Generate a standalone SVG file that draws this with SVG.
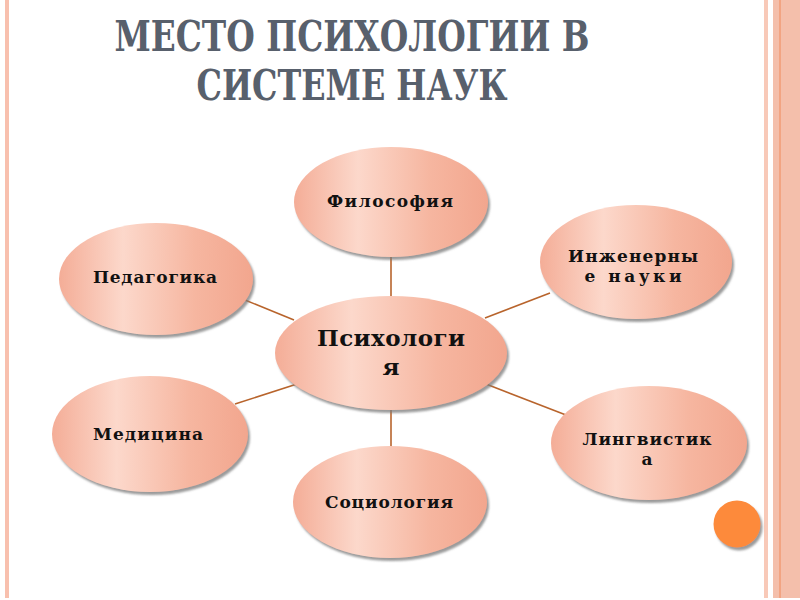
<svg xmlns="http://www.w3.org/2000/svg" width="800" height="600" viewBox="0 0 800 600">
<defs>
<linearGradient id="g" x1="0" y1="0" x2="1" y2="0">
<stop offset="0" stop-color="#f4ad97"/>
<stop offset="0.33" stop-color="#fcd8cb"/>
<stop offset="0.7" stop-color="#f6b6a0"/>
<stop offset="1" stop-color="#f2a68e"/>
</linearGradient>
<filter id="sh" x="-10%" y="-10%" width="125%" height="130%">
<feGaussianBlur in="SourceAlpha" stdDeviation="1"/>
<feOffset dx="2" dy="3" result="o"/>
<feFlood flood-color="#7a7a7a" flood-opacity="0.75"/>
<feComposite in2="o" operator="in"/>
<feMerge><feMergeNode/><feMergeNode in="SourceGraphic"/></feMerge>
</filter>
</defs>
<style>
.n{fill:url(#g);filter:url(#sh)}
.t{font-family:"DejaVu Serif","Liberation Serif",serif;font-weight:bold;fill:#111;text-anchor:middle;font-size:17px}
.big{font-size:23px}
.title{font-family:"DejaVu Serif","Liberation Serif",serif;font-weight:bold;fill:#58606c;text-anchor:middle;font-size:42px}
.c{stroke:#b8642c;stroke-width:1.6;fill:none}
</style>
<rect width="800" height="600" fill="#fff"/>
<g id="borders">
<rect x="5" y="0" width="4" height="598" fill="#f8c0ae"/>
<rect x="764" y="0" width="4" height="598" fill="#f8c9b8"/>
<rect x="773" y="0" width="27" height="598" fill="#f4bfab"/>
<line x1="780" y1="0" x2="780" y2="598" stroke="#f08a5a" stroke-width="1"/>
</g>
<g id="title">
<text class="title" x="352" y="51" textLength="475" lengthAdjust="spacingAndGlyphs">МЕСТО ПСИХОЛОГИИ В</text>
<text class="title" x="352" y="100" textLength="311" lengthAdjust="spacingAndGlyphs">СИСТЕМЕ НАУК</text>
</g>
<g id="connectors">
<line class="c" x1="391" y1="257" x2="391" y2="297"/>
<line class="c" x1="245" y1="300" x2="294" y2="320"/>
<line class="c" x1="550" y1="293" x2="485" y2="318"/>
<line class="c" x1="235" y1="404" x2="297" y2="384"/>
<line class="c" x1="566" y1="415" x2="486" y2="384"/>
<line class="c" x1="391" y1="409" x2="391" y2="448"/>
</g>
<g id="filosofiya">
<ellipse class="n" cx="391" cy="202" rx="97" ry="55"/>
<text class="t" x="390" y="207" textLength="126">Философия</text>
</g>
<g id="pedagogika">
<ellipse class="n" cx="156" cy="279" rx="97" ry="56"/>
<text class="t" x="155" y="283" textLength="124">Педагогика</text>
</g>
<g id="inzhenernye">
<ellipse class="n" cx="636" cy="262" rx="96" ry="57"/>
<text class="t" x="633" y="262" textLength="130">Инженерны</text>
<text class="t" x="633" y="282" textLength="97">е науки</text>
</g>
<g id="psihologiya">
<ellipse class="n" cx="391" cy="353" rx="116" ry="57"/>
<text class="t big" x="391" y="346" textLength="148">Психологи</text>
<text class="t big" x="391" y="375">я</text>
</g>
<g id="medicina">
<ellipse class="n" cx="150" cy="434" rx="98" ry="58"/>
<text class="t" x="148" y="440" textLength="110">Медицина</text>
</g>
<g id="lingvistika">
<ellipse class="n" cx="649" cy="443" rx="98" ry="57"/>
<text class="t" x="647" y="445" textLength="129">Лингвистик</text>
<text class="t" x="647" y="465">а</text>
</g>
<g id="sociologiya">
<ellipse class="n" cx="390" cy="502" rx="97" ry="56"/>
<text class="t" x="389" y="508" textLength="128">Социология</text>
</g>
<g id="dot">
<circle cx="737" cy="524" r="23.5" fill="#fd8a3a" filter="url(#sh)"/>
</g>
</svg>
